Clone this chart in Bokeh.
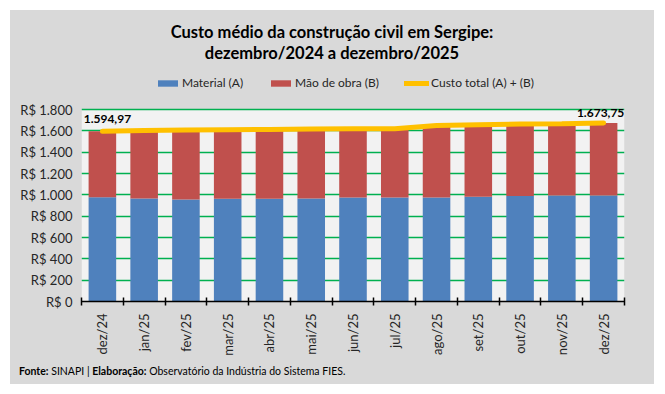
import math
from bokeh.plotting import figure
from bokeh.layouts import column
from bokeh.models import (ColumnDataSource, FixedTicker, Legend, LegendItem, Range1d, Div,
                          BoxAnnotation)
from bokeh.core.properties import value
from bokeh.embed import file_html
from bokeh.resources import INLINE

months = ["dez/24", "jan/25", "fev/25", "mar/25", "abr/25", "mai/25", "jun/25",
          "jul/25", "ago/25", "set/25", "out/25", "nov/25", "dez/25"]
material = [978, 966, 957, 963, 963, 966, 975, 975, 975, 982, 988, 994, 994]
total = [1594.97, 1604, 1607, 1610, 1613, 1617, 1620, 1620, 1651, 1658, 1664, 1667, 1673.75]
labor = [t - m for t, m in zip(total, material)]
y_ticks = [0, 200, 400, 600, 800, 1000, 1200, 1400, 1600, 1800]
y_tick_labels = ["R$ 0", "R$ 200", "R$ 400", "R$ 600", "R$ 800", "R$ 1.000",
                 "R$ 1.200", "R$ 1.400", "R$ 1.600", "R$ 1.800"]
title_lines = ["Custo médio da construção civil em Sergipe:", "dezembro/2024 a dezembro/2025"]
source_note = [("Fonte:", True), (" SINAPI | ", False), ("Elaboração:", True),
               (" Observatório da Indústria do Sistema FIES.", False)]

FONT = "Lato"
BG = "#D9D9D9"

# layout (pixels)
W = 644
FIG_H = 292
PLOT_H = 192          # height of the 0..max plotting area
LEGEND_SPACE = 43     # frame space above the plotting area for the legend
BOTTOM = 57


def br(v):
    s = f"{v:,.2f}"
    return s.replace(",", "X").replace(".", ",").replace("X", ".")


ymax = max(y_ticks)
ytop = ymax + LEGEND_SPACE * ymax / PLOT_H

xs = [i + 0.5 for i in range(len(months))]
src = ColumnDataSource(dict(x=xs, material=material, labor=labor, total=total))

p = figure(width=W, height=FIG_H, x_range=Range1d(0, len(months)), y_range=Range1d(0, ytop),
           output_backend="svg", toolbar_location=None, margin=0,
           min_border_left=71, min_border_right=30, min_border_top=0, min_border_bottom=BOTTOM)
p.background_fill_color = BG
p.border_fill_color = BG
p.outline_line_color = None

p.add_layout(BoxAnnotation(bottom=0, top=ymax, fill_color="#F2F2F2", fill_alpha=1,
                           line_color=None, level="image"))

bars = p.vbar_stack(["material", "labor"], x="x", width=0.66, source=src,
                    color=["#4F81BD", "#C0504D"], line_color=None)
ln = p.line("x", "total", source=src, line_color="#FFC000", line_width=5, line_cap="round")

# data labels (first & last)
p.text(x=[xs[0]], y=[total[0]], text=[br(total[0])], text_font=value(FONT), text_font_style="bold",
       text_font_size="12px", text_align="center", text_baseline="bottom", x_offset=5, y_offset=-8,
       text_color="#000000")
p.text(x=[xs[-1]], y=[total[-1]], text=[br(total[-1])], text_font=value(FONT), text_font_style="bold",
       text_font_size="12px", text_align="center", text_baseline="bottom", x_offset=-3, y_offset=-6,
       text_color="#000000")

# axes
p.yaxis.ticker = FixedTicker(ticks=y_ticks)
p.yaxis.major_label_overrides = {t: l for t, l in zip(y_ticks, y_tick_labels)}
p.yaxis.axis_line_color = None
p.yaxis.major_tick_line_color = None
p.yaxis.minor_tick_line_color = None
p.yaxis.major_label_text_font = FONT
p.yaxis.major_label_text_font_size = "13px"
p.yaxis.major_label_text_color = "#262626"
p.yaxis.major_label_standoff = 3

p.xaxis.ticker = FixedTicker(ticks=xs, minor_ticks=list(range(len(months) + 1)))
p.xaxis.major_label_overrides = {x: m for x, m in zip(xs, months)}
p.xaxis.major_label_orientation = math.pi / 2
p.xaxis.major_tick_line_color = None
p.xaxis.minor_tick_line_color = "#000000"
p.xaxis.minor_tick_line_width = 1.5
p.xaxis.minor_tick_in = 4
p.xaxis.minor_tick_out = 4
p.xaxis.axis_line_color = "#000000"
p.xaxis.axis_line_width = 1.5
p.xaxis.major_label_text_font = FONT
p.xaxis.major_label_text_font_size = "13px"
p.xaxis.major_label_text_color = "#262626"
p.xaxis.major_label_standoff = 6

p.xgrid.grid_line_color = None
p.ygrid.grid_line_color = "#00B050"
p.ygrid.grid_line_width = 1.5

legend = Legend(items=[LegendItem(label="Material (A)", renderers=[bars[0]]),
                       LegendItem(label="Mão de obra (B)", renderers=[bars[1]]),
                       LegendItem(label="Custo total (A) + (B)", renderers=[ln])],
                orientation="horizontal", location=(74, PLOT_H + 19),
                background_fill_alpha=0, border_line_color=None,
                label_text_font=FONT, label_text_font_size="12px", label_text_color="#262626",
                glyph_width=25, glyph_height=8, spacing=25, label_standoff=2,
                padding=0, margin=0)
p.add_layout(legend, "center")

title_html = ("<div style=\"width:644px;text-align:center;font-family:Lato;font-weight:bold;"
              "font-size:16.5px;line-height:21px;color:#000;padding-top:12px;\">"
              + "<br>".join(title_lines) + "</div>")
title_div = Div(text=title_html, width=W, height=56, margin=0)

foot_html = ("<div style=\"font-family:Lato;font-size:10.5px;line-height:26px;color:#000;"
             "padding-left:9px;white-space:nowrap;\">"
             + "".join(f"<b>{t}</b>" if b else t for t, b in source_note) + "</div>")
foot_div = Div(text=foot_html, width=W, height=26, margin=0)

layout = column(title_div, p, foot_div, spacing=0, margin=(10, 11, 10, 10),
                styles={"background-color": BG})

open("out.html", "w").write(file_html(layout, INLINE))
